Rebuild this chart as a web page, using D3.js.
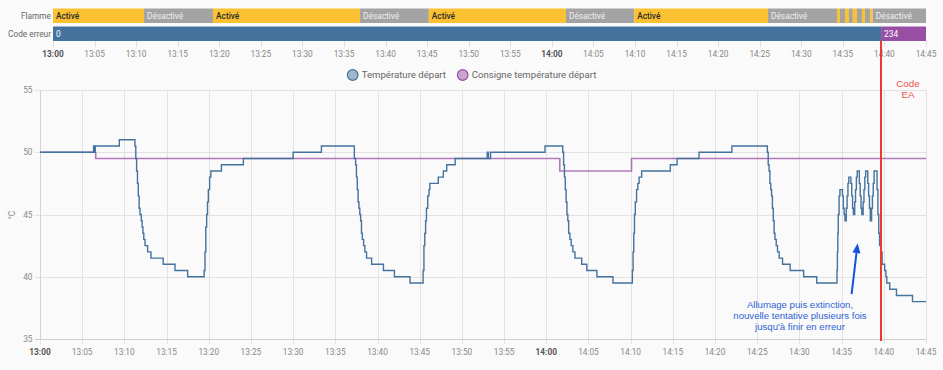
<!DOCTYPE html>
<html><head><meta charset="utf-8">
<script src="https://cdn.jsdelivr.net/npm/d3@7"></script>
<style>
html,body{margin:0;padding:0;background:#fafafa;}
svg{display:block;font-family:Roboto,"Noto Sans",sans-serif;}
</style></head>
<body><svg id="c" width="943" height="370"></svg>
<script>
// ---- data ----
const domainStart = "13:00:00", domainEnd = "14:45:00";
const flammeTimes = ["13:00:00","13:10:57","13:19:15","13:36:56","13:45:12","14:01:42","14:09:54","14:26:00","14:34:18","14:34:39","14:35:16","14:35:44","14:36:12","14:36:42","14:37:18","14:37:40","14:38:18","14:38:36"];
const flammeStates = ["Activé","Désactivé","Activé","Désactivé","Activé","Désactivé","Activé","Désactivé","Activé","Désactivé","Activé","Désactivé","Activé","Désactivé","Activé","Désactivé","Activé","Désactivé"];
const codeTimes = ["13:00:00","14:39:36"];
const codeStates = ["0","234"];
const rowLabels = ["Flamme","Code erreur"];

const tempTimes = ["13:00:00","13:06:21","13:06:27","13:06:33","13:09:24","13:11:15","13:11:21","13:11:27","13:11:33","13:11:39","13:11:45","13:11:51","13:12:00","13:12:06","13:12:12","13:12:18","13:12:27","13:12:45","13:13:09","13:14:36","13:16:00","13:17:30","13:19:27","13:19:33","13:19:39","13:19:45","13:19:51","13:19:57","13:20:06","13:20:15","13:21:30","13:24:06","13:30:00","13:33:21","13:37:15","13:37:24","13:37:30","13:37:36","13:37:42","13:37:48","13:37:54","13:38:00","13:38:06","13:38:12","13:38:21","13:38:30","13:38:42","13:39:18","13:40:42","13:42:00","13:43:51","13:45:24","13:45:30","13:45:36","13:45:42","13:45:48","13:45:57","13:46:06","13:46:12","13:47:12","13:47:48","13:48:12","13:49:12","13:53:00","13:53:09","13:53:24","13:59:51","14:01:57","14:02:03","14:02:09","14:02:15","14:02:21","14:02:27","14:02:33","14:02:39","14:02:48","14:02:57","14:03:09","14:03:24","14:04:12","14:04:48","14:06:00","14:07:54","14:10:12","14:10:17","14:10:22","14:10:27","14:10:33","14:10:42","14:10:51","14:11:00","14:11:18","14:14:42","14:15:30","14:18:06","14:22:00","14:26:12","14:26:18","14:26:24","14:26:30","14:26:36","14:26:42","14:26:48","14:26:54","14:27:00","14:27:06","14:27:15","14:27:24","14:27:36","14:28:00","14:28:54","14:30:30","14:32:03","14:34:27","14:34:30","14:34:33","14:34:36","14:34:42","14:34:48","14:35:06","14:35:12","14:35:18","14:35:24","14:35:33","14:35:39","14:35:45","14:35:51","14:36:06","14:36:12","14:36:18","14:36:24","14:36:33","14:36:39","14:36:45","14:36:51","14:37:06","14:37:12","14:37:18","14:37:24","14:37:33","14:37:39","14:37:45","14:37:51","14:38:06","14:38:12","14:38:18","14:38:24","14:38:33","14:38:39","14:38:45","14:38:51","14:39:12","14:39:18","14:39:24","14:39:30","14:39:39","14:39:48","14:40:06","14:40:15","14:40:21","14:40:42","14:41:30","14:43:24","14:45:00"];
const tempValues = [50,50.5,50,50.5,51,50.5,49.5,48.5,47.5,46.5,45.5,45,44.5,44,43.5,43,42.5,42,41.5,41,40.5,40,40.5,42,44,45,46,47,48,48.5,49,49.5,50,50.5,49.5,49,48,47,46,45.5,45,44.5,43.5,43,42.5,42,41.5,41,40.5,40,39.5,40.5,42.5,43.5,44.5,45.5,46.5,47,47.5,48,48.5,49,49.5,50,49.5,50,50.5,50,49,48,47,46,45,44.5,43.5,43,42.5,42,41.5,41,40.5,40,39.5,40.5,42,43.5,45,46,47,47.5,48,48.5,49,49.5,50,50.5,50,49,48.5,47.5,47,46.5,45.5,44.5,43.5,43,42.5,42,41.5,41,40.5,40,39.5,40.5,42,43.5,45,46.5,47,46.5,45.5,45,44.5,45.5,46.5,47.5,48,47.5,46.5,45.5,45,46,47,48,48.5,47.5,46.5,45.5,45,46,47,48,48.5,47.5,46.5,45.5,44.5,45.5,46.5,47.5,48.5,47,45,43.5,42.5,42,41,40.5,40,39.5,39,38.5,38,38];

const setTimes = ["13:00:00","13:06:36","14:01:36","14:10:06","14:45:00"];
const setValues = [50,49.5,48.5,49.5,49.5];

const seriesNames = ["Température départ","Consigne température départ"];
const yTicks = [35,40,45,50,55];
const markerTime = "14:39:40";
const markerLabel = ["Code","EA"];
const noteLines = ["Allumage puis extinction,","nouvelle tentative plusieurs fois","jusqu'à finir en erreur"];
const noteArrowFrom = ["14:36:11", 38.6];
const noteArrowTo = ["14:36:54", 42.7];

// ---- drawing ----
const parse = d3.timeParse("%H:%M:%S");
const t0 = parse(domainStart), t1 = parse(domainEnd);
const svg = d3.select("#c");
const blue = "#44739e", purple = "#984ea3", yellow = "#fbc133", grey = "#a3a3a3";
const fmt = d3.timeFormat("%H:%M");
const isHour = d => d.getMinutes() === 0;

// Timeline
const xt = d3.scaleTime().domain([t0, t1]).range([53, 926]);
const rows = [
  {label: rowLabels[0], y: 8.5, h: 14.5, times: flammeTimes, states: flammeStates},
  {label: rowLabels[1], y: 26.5, h: 14.5, times: codeTimes, states: codeStates}
];
const ticks5 = xt.ticks(d3.timeMinute.every(5));
svg.append("g").selectAll("line").data(ticks5).join("line")
  .attr("x1", d => Math.round(xt(d)) + 0.5).attr("x2", d => Math.round(xt(d)) + 0.5)
  .attr("y1", 41).attr("y2", 47).attr("stroke", "#e0e0e0");
rows.forEach((r, ri) => {
  const segs = r.times.map((t, i) => ({s: parse(t), e: i + 1 < r.times.length ? parse(r.times[i + 1]) : t1, v: r.states[i]}));
  const colorOf = v => ri === 0 ? (v === "Activé" ? yellow : grey) : (v === "0" ? blue : purple);
  const g = svg.append("g");
  g.selectAll("rect").data(segs).join("rect")
    .attr("x", d => xt(d.s)).attr("width", d => xt(d.e) - xt(d.s))
    .attr("y", r.y).attr("height", r.h).attr("fill", d => colorOf(d.v));
  segs.forEach((d, i) => {
    const w = xt(d.e) - xt(d.s);
    if (w < 30) return;
    const cid = "clip" + ri + "_" + i;
    svg.append("clipPath").attr("id", cid).append("rect")
      .attr("x", xt(d.s)).attr("y", r.y).attr("width", w - 2).attr("height", r.h);
    g.append("text").attr("clip-path", "url(#" + cid + ")")
      .attr("x", xt(d.s) + 3).attr("y", r.y + r.h / 2 + 3)
      .attr("font-size", 8.3)
      .attr("font-weight", ri === 0 && d.v === "Activé" ? 500 : 400)
      .attr("fill", ri === 0 && d.v === "Activé" ? "#2b2b2b" : (ri === 0 ? "#f0f0f0" : "#ffffff"))
      .text(d.v);
  });
  svg.append("text").attr("x", 51).attr("y", r.y + r.h / 2 + 3)
    .attr("text-anchor", "end").attr("font-size", 8.3).attr("fill", "#666").text(r.label);
});
svg.append("g").selectAll("text").data(ticks5).join("text")
  .attr("x", d => xt(d)).attr("y", 57).attr("text-anchor", "middle")
  .attr("font-size", 8.3).attr("font-weight", d => isHour(d) ? 700 : 400)
  .attr("fill", d => isHour(d) ? "#555" : "#888").text(fmt);

// Legend
const leg = svg.append("g");
const legItems = [{n: seriesNames[0], c: blue, x: 352.7}, {n: seriesNames[1], c: purple, x: 462.7}];
legItems.forEach(it => {
  leg.append("circle").attr("cx", it.x).attr("cy", 75).attr("r", 5.3)
    .attr("fill", it.c).attr("fill-opacity", 0.5).attr("stroke", it.c).attr("stroke-width", 1.2);
  leg.append("text").attr("x", it.x + 9).attr("y", 78.3).attr("font-size", 9.6).attr("fill", "#666").text(it.n);
});

// Main chart
const x = d3.scaleTime().domain([t0, t1]).range([40, 926]);
const y = d3.scaleLinear().domain([35, 55]).range([339, 90]);
const grid = svg.append("g");
grid.selectAll("line.v").data(x.ticks(d3.timeMinute.every(5))).join("line")
  .attr("x1", d => Math.round(x(d)) + 0.5).attr("x2", d => Math.round(x(d)) + 0.5)
  .attr("y1", 90).attr("y2", 344).attr("stroke", "#e2e2e2");
grid.selectAll("line.h").data(yTicks).join("line")
  .attr("x1", 35).attr("x2", 926).attr("y1", d => Math.round(y(d)) + 0.5).attr("y2", d => Math.round(y(d)) + 0.5)
  .attr("stroke", d => d === 35 ? "#cfcfcf" : "#e2e2e2");
grid.append("line").attr("x1", 40.5).attr("x2", 40.5).attr("y1", 90).attr("y2", 339).attr("stroke", "#d4d4d4");

svg.append("g").selectAll("text").data(yTicks).join("text")
  .attr("x", 32.5).attr("y", d => y(d) + 3).attr("text-anchor", "end")
  .attr("font-size", 8.3).attr("fill", "#888").text(d => d);
svg.append("g").selectAll("text").data(x.ticks(d3.timeMinute.every(5))).join("text")
  .attr("x", d => x(d)).attr("y", 354.5).attr("text-anchor", "middle")
  .attr("font-size", 8.3).attr("font-weight", d => isHour(d) ? 700 : 400)
  .attr("fill", d => isHour(d) ? "#555" : "#888").text(fmt);
svg.append("text").attr("transform", "translate(15,215) rotate(-90)").attr("text-anchor", "middle")
  .attr("font-size", 8.3).attr("fill", "#888").text("°C");

const line = d3.line().curve(d3.curveStepAfter).x(d => x(d[0])).y(d => y(d[1]));
svg.append("path").datum(setTimes.map((t, i) => [parse(t), setValues[i]]))
  .attr("d", line).attr("fill", "none").attr("stroke", purple).attr("stroke-opacity", 0.75).attr("stroke-width", 1.6);
svg.append("path").datum(tempTimes.map((t, i) => [parse(t), tempValues[i]]))
  .attr("d", line).attr("fill", "none").attr("stroke", blue).attr("stroke-width", 1.4);

// Marker
const mx = x(parse(markerTime));
svg.append("line").attr("x1", mx).attr("x2", mx).attr("y1", 41).attr("y2", 341)
  .attr("stroke", "#ee3a2c").attr("stroke-width", 2);
markerLabel.forEach((s, i) => svg.append("text").attr("x", 908).attr("y", 86.5 + i * 11)
  .attr("text-anchor", "middle").attr("font-family", "'Liberation Sans',Arial,sans-serif")
  .attr("font-size", 9.8).attr("fill", "#f0524a").text(s));

// Note
noteLines.forEach((s, i) => svg.append("text").attr("x", 800).attr("y", 307.5 + i * 11)
  .attr("text-anchor", "middle").attr("font-family", "'Liberation Sans',Arial,sans-serif")
  .attr("font-size", 9.6).attr("fill", "#2f63d6").text(s));
const ax1 = x(parse(noteArrowFrom[0])), ay1 = y(noteArrowFrom[1]);
const ax2 = x(parse(noteArrowTo[0])), ay2 = y(noteArrowTo[1]);
const ang = Math.atan2(ay2 - ay1, ax2 - ax1);
const hl = 10, hw = 4;
const bx = ax2 - hl * Math.cos(ang), by = ay2 - hl * Math.sin(ang);
svg.append("line").attr("x1", ax1).attr("y1", ay1).attr("x2", bx).attr("y2", by)
  .attr("stroke", "#1553e0").attr("stroke-width", 2);
svg.append("path").attr("d", `M${ax2},${ay2}L${bx - hw * Math.sin(ang)},${by + hw * Math.cos(ang)}L${bx + hw * Math.sin(ang)},${by - hw * Math.cos(ang)}Z`)
  .attr("fill", "#1553e0");
</script></body></html>
